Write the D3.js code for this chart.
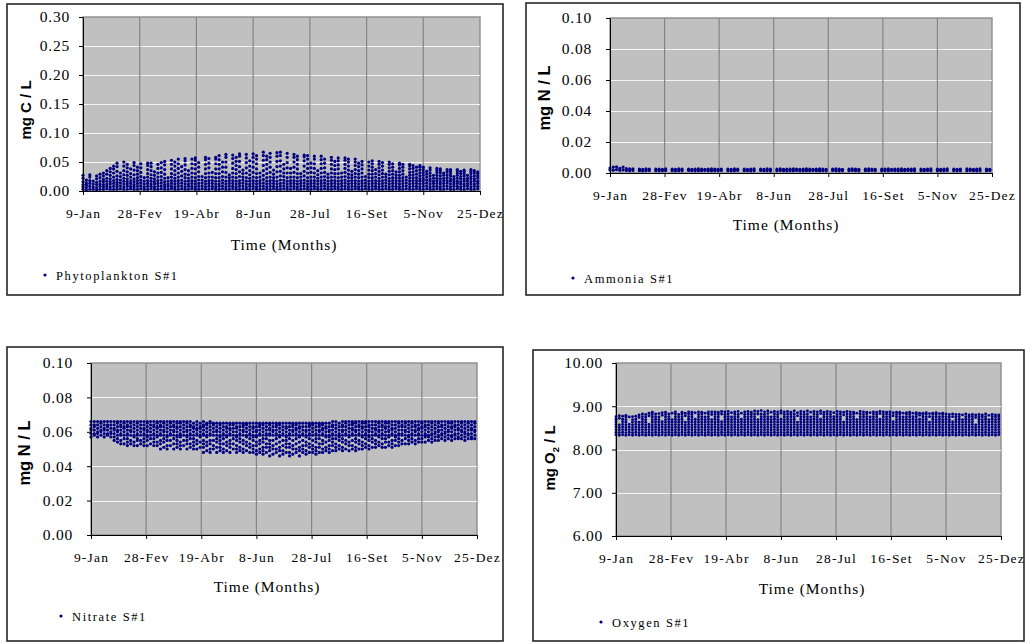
<!DOCTYPE html>
<html><head><meta charset="utf-8">
<script src="https://cdn.jsdelivr.net/npm/d3@7"></script>
<style>
html,body{margin:0;padding:0;background:#fff;}
svg{display:block;}
text{font-family:"Liberation Serif","Times New Roman",serif;fill:#000;}
.ytitle{font-family:"Liberation Sans",Arial,sans-serif;font-weight:bold;}
</style></head><body>
<svg id="chart" width="1025" height="643"></svg>
<script>
// Sampling: one column of model outputs every 3 days, starting 9 January (day of year).
const firstDay = 9;
const stepDays = 3;

// Date axis (day of year) and its labels
const tickDays = [9, 59, 109, 159, 209, 259, 309, 359];
const tickLabels = ["9-Jan", "28-Fev", "19-Abr", "8-Jun", "28-Jul", "16-Set", "5-Nov", "25-Dez"];

// Y tick values per panel
const phytoTicks = [0, 0.05, 0.10, 0.15, 0.20, 0.25, 0.30];
const nitrogenTicks = [0, 0.02, 0.04, 0.06, 0.08, 0.10];
const oxygenTicks = [6, 7, 8, 9, 10];

// Phytoplankton S#1, mg C/L x 1000, one array per sampling column
const phytoplanktonMilli = [
  [3,7,11,16,22,27],[2,6,10,14,19],[3,8,13,18,24,28],[3,7,12,17],[2,6,11,15,21,26],[3,8,12,17,23,29],[3,7,11,16,20,26,31],[4,8,12,17,22,29,35],[3,7,12,16,21,27,33,39],[3,8,13,18,24,31,38,43],
  [3,7,11,15,20,26,34,42,48],[4,9,14,19,25,31],[3,7,12,17,22,28,35,43,50],[3,8,12,16,21,27,33,40,46],[4,8,13,18,24,30,38],[3,7,11,16,21,28,36,44,49],[3,8,13,18,23,29,35,41],[4,9,14,19,25,32,40,47],[3,7,12,17,23],[3,8,13,18,24,30,37,44,48],
  [4,8,12,17,22,28,35,42,48],[3,7,12,16,21,27,33],[3,8,13,18,24,31,39,46],[4,9,14,19,25,32,40,49],[3,7,11,16,22,29,37,45,51],[3,8,12,17,23],[4,8,13,18,24,30,38,46,53],[3,7,12,17,22,28,35,43,50],[3,8,13,18,24,31,39,47,55],[4,9,14,19,26,34,42],
  [3,7,12,17,23,29,37,45,52,56],[3,8,12,17,22,28,35],[4,8,13,18,24,31,39,47,55],[3,7,12,17,23,30,38,46,53,57],[3,8,13,19,25,33,41,49],[4,9,14,19,25],[3,7,12,17,23,30,38,46,54,58],[3,8,13,18,24,31,40,48,56],[4,8,13,18,24,32],[3,7,12,17,23,30,38,47,55,58],
  [3,8,12,17,23,30,38,46,54,61],[4,9,14,19,25,33,41,50],[3,7,12,17,24,32,41,50,58,63],[3,8,13,18,23,28],[4,8,13,18,24,31,39,48,56,62],[3,7,12,17,23,30,37,44,51,58],[3,8,13,18,25,33,42,51,60,64],[4,9,14,19,24,30,36],[3,7,12,17,23,31,40,49,57,63],[3,8,12,17,22,28,35,43,52],
  [4,8,13,18,24,32,41,50,58,64],[3,7,12,17,23,30,38,47,55,61],[3,8,13,18,24,31],[4,9,14,20,27,35,44,53,61,67],[3,7,12,17,23,30,38,46,54,60],[3,8,13,18,24,32,41,50,58,65],[4,8,13,18,23,29,36],[3,7,12,17,24,33,42,51,60,66],[3,8,13,19,26,34,43,52,61,67],[4,9,14,19,25,31,38,46],
  [3,7,12,17,23,31,40,49,58,65],[3,8,13,18,24,31,39],[4,8,13,18,24,32,41,50,58,63],[3,7,12,17,23,30,38,46,54,60],[3,8,13,18,24,30],[4,9,14,19,26,34,43,52,59,62],[3,7,12,17,23,31,39,47,55,61],[3,8,13,18,24,32,40,48],[4,8,13,18,24,31,39,47,55,60],[3,7,12,17,22,28,35],
  [3,8,13,18,24,31,39,47,54,60],[4,9,14,19,25,32,40,48,55],[3,7,12,17,23,29],[3,8,13,18,24,31,38,46,53,58],[4,8,13,18,24,30,37,44,51],[3,7,12,17,23,30,38,45,52,57],[3,8,13,18,24,31],[4,9,14,19,25,32,39,46,53,57],[3,7,12,17,23,29,36,43,50,55],[3,8,13,18,23,28,34],
  [4,8,13,18,24,30,37,44,50,55],[3,7,12,17,23,29,35,42,48],[3,8,13,18,24,31,38,45,51],[4,9,14,19,25],[3,7,12,17,23,29,36,43,50],[3,8,13,18,23,29,35,41,47,52],[4,8,13,18,24,30,37],[3,7,12,17,22,28,34,40,46,51],[3,8,13,18,24,30,36,43,49],[4,9,14,19,24,29],
  [3,7,12,17,22,28,34,40,46,50],[3,8,13,18,23,29,35,41,47],[4,8,13,18,23,28,33],[3,7,12,17,22,27,33,39,45,48],[3,8,13,18,23,29,35,41,46],[4,9,14,19,24],[3,7,12,17,22,27,32,38,43,46],[3,8,13,18,23,28,33,39,44],[4,8,13,18,23,29,35,41],[3,7,12,17,21,26,31,36,41,44],
  [3,8,13,18,22,27,32,37,41],[4,9,14,19,24,29,34],[3,7,12,17,21,26,31,36,40],[3,8,13,17,22,27],[4,8,13,18,22,27,32,36,39],[3,7,12,16,21,26,31,35,38],[3,8,13,18,22,27,31],[4,9,14,18,23,28,33,37],[3,7,12,17,21,26,30,34,37],[3,8,12,16,20,25],
  [4,8,13,17,22,27,31,35,37],[3,7,12,16,21,25,30,34],[3,8,12,17,21,26,30,34,36],[4,9,13,18,22,27],[3,7,12,16,21,25,30,34,37],[3,8,12,17,21,26,31,35],[4,8,13,17,22,26,30,33]
];

// Ammonia S#1, mg N/L x 10000 (empty columns = no output that step)
const ammoniaTenThousandths = [
  [20,32],[18,38],[22,40],[17,30],[20,38],[16,28],[15,26],[16,27],[],[15,25],
  [14,24],[15,26],[16,25],[],[15,25],[14,25],[15,24],[16,26],[],[15,25],
  [14,24],[15,26],[15,25],[],[16,25],[15,24],[14,25],[15,26],[15,25],[16,24],
  [15,25],[14,26],[15,25],[15,24],[16,25],[],[15,25],[14,24],[15,26],[16,25],
  [],[15,25],[15,24],[14,25],[15,26],[],[16,25],[15,24],[15,26],[14,25],
  [],[15,25],[16,26],[15,24],[14,25],[15,25],[15,26],[16,25],[15,24],[14,25],
  [15,26],[15,25],[16,24],[15,25],[14,26],[15,25],[15,24],[],[16,25],[15,26],
  [14,25],[15,24],[],[15,25],[16,26],[15,25],[14,24],[],[15,25],[15,26],
  [16,25],[15,24],[],[14,25],[15,25],[15,26],[16,24],[15,25],[14,25],[15,26],
  [15,24],[16,25],[15,25],[14,26],[],[15,25],[15,24],[16,25],[15,26],[],
  [14,25],[15,24],[15,25],[16,26],[],[15,25],[14,24],[15,25],[],[15,26],
  [16,25],[15,24],[14,25],[15,26],[],[15,25],[16,24]
];

// Nitrate S#1, mg N/L x 1000
const nitrateMilli = [
  [57,59,61,62,64,66],[58,59,61,63,64,66],[57,59,60,62,64,66],[58,60,61,63,65,66],[57,59,61,62,64,66],[58,59,61,63,64,66],[57,59,60,62,64,66],[55,57,59,61,62,64,66],[54,56,58,60,61,63,65,66],[53,55,58,59,61,63,64,66],
  [53,56,58,60,62,63,65,66],[52,54,56,58,59,61,63,64,66],[53,55,58,60,61,63,65,66],[52,54,57,58,60,62,64,66],[52,55,56,58,59,61,63,65,66],[53,55,58,60,62,64,66],[52,54,56,58,59,61,62,64,66],[52,55,57,58,60,61,63,65,66],[53,56,58,60,62,64,66],[52,54,56,58,59,61,63,64,66],
  [52,54,57,58,60,62,63,65,66],[50,53,55,58,59,61,63,64,66],[51,54,56,58,60,61,63,65,66],[50,52,55,57,58,60,62,64,66],[52,55,58,59,61,63,65,66],[50,53,56,58,60,61,63,64,66],[51,53,55,57,58,60,62,63,65,66],[50,52,54,57,58,59,61,63,65,66],[52,55,58,60,62,64,66],[50,53,55,57,58,60,61,63,65,66],
  [51,53,56,58,59,61,63,64,66],[50,52,54,56,58,60,62,63,65],[50,53,55,58,59,61,62,64,66],[51,54,57,58,60,62,63,65],[48,51,53,55,58,59,61,63,64,66],[49,52,54,57,58,60,62,64,65],[48,50,53,55,58,59,61,63,65,66],[50,52,55,58,60,62,64,65],[48,51,54,56,58,60,61,63,65],[49,51,53,55,57,58,60,62,64,65],
  [48,50,53,56,58,59,61,63,65],[49,52,54,57,58,60,62,63,65],[48,51,53,55,58,59,61,62,64,65],[50,53,56,58,60,62,64,65],[48,50,52,55,57,58,60,62,63,65],[49,51,54,56,58,59,61,63,65],[48,50,53,55,58,60,61,63,64,65],[49,52,54,57,58,60,62,64,65],[48,51,53,56,58,59,61,63,65],[48,50,52,55,57,58,60,62,63,65],
  [47,49,52,54,57,58,60,61,63,65],[48,50,53,55,58,59,61,63,64,65],[47,49,51,54,56,58,60,62,64,65],[48,51,53,56,58,59,61,63,65],[46,49,51,53,55,58,59,61,62,64,65],[47,50,52,55,58,60,61,63,65],[48,50,53,56,58,59,61,63,64,65],[46,49,51,54,57,58,60,62,64,65],[47,49,52,55,58,59,61,63,65],[48,51,53,55,57,58,60,62,63,65],
  [46,48,51,53,56,58,59,61,63,65],[47,50,52,55,58,60,61,63,64,65],[48,50,53,56,58,59,61,62,64,65],[46,49,51,54,57,58,60,62,63,65],[48,50,52,55,58,59,61,63,65],[47,49,52,54,57,58,60,61,63,65],[48,51,53,56,58,59,61,63,64,65],[48,50,52,55,58,60,62,64,65],[47,49,51,54,56,58,59,61,63,65],[48,51,53,56,58,60,61,63,64,65],
  [48,50,53,55,58,59,61,62,64,65],[49,51,54,57,58,60,62,63,65],[48,50,52,55,57,58,60,61,63,65],[49,52,54,56,58,59,61,63,64,66],[49,51,53,56,58,60,62,64,66],[50,52,55,57,58,59,61,63,65],[49,51,54,56,58,60,61,63,64,66],[50,53,55,58,59,61,63,65,66],[49,52,54,57,58,60,62,64,66],[50,52,55,58,59,61,62,64,65,66],
  [49,51,54,56,58,60,61,63,65,66],[50,53,55,58,59,61,63,64,66],[50,52,54,57,58,60,62,63,65,66],[51,53,56,58,59,61,63,65,66],[50,52,55,57,58,60,61,63,64,66],[51,54,56,58,60,62,64,66],[51,53,55,58,59,61,62,64,66],[52,54,57,58,60,61,63,65,66],[51,53,56,58,59,61,63,64,66],[51,54,56,58,60,62,63,65,66],
  [52,54,57,58,60,61,63,65,66],[51,53,55,58,59,61,62,64,66],[52,55,57,58,60,62,64,66],[52,54,56,58,59,61,63,65,66],[53,55,58,59,61,63,64,66],[53,56,58,60,61,63,65,66],[53,55,57,58,60,62,64,66],[54,56,58,59,61,63,65,66],[53,55,58,60,61,63,64,66],[54,56,58,59,61,62,64,66],
  [54,56,58,60,62,63,65,66],[54,57,58,59,61,63,64,66],[55,57,58,60,62,64,66],[54,56,58,59,61,63,65,66],[55,57,59,60,62,64,66],[55,57,58,60,61,63,65,66],[56,58,59,61,63,64,66],[55,57,59,60,62,64,66],[56,58,60,61,63,65,66],[55,57,58,60,62,63,65,66],
  [56,58,59,61,63,64,66],[56,57,59,61,62,64,66],[56,58,60,61,63,65,66],[55,57,59,60,62,64,66],[56,58,59,61,63,65,66],[56,57,59,61,62,64,66],[56,58,60,61,63,65,66]
];

// Oxygen S#1, mg O2/L x 100
const oxygenCenti = [
  [834,840,846,852,858,864,870,876],[833,839,845,851,857,872,878],[834,840,846,852,858,864,870,877],[833,839,845,851,857,863,869,875,879],[834,840,846,852,858,875],[833,839,845,851,857,863,869,876],[834,840,846,852,858,864,870,877],[833,839,845,851,857,863,874,880],[834,840,846,852,858,864,870,876,882],[833,839,845,851,857,863,869,875,881],
  [834,840,846,852,858,878,884],[833,839,845,851,857,863,869,875,881,886],[834,840,846,852,858,864,870,876,882],[833,839,845,851,857,863,869,875,883],[834,840,846,852,858,864,879,885],[833,839,845,851,857,863,869,875,881,886],[834,840,846,852,858,864,870,876,882],[833,839,845,851,857,863,869,884],[834,840,846,852,858,864,870,876,882,887],[833,839,845,851,857,863,869,875,881],
  [834,840,846,852,858,864,870,876,882,886],[833,839,845,851,857,863,878,884],[834,840,846,852,858,864,870,876,882,887],[833,839,845,851,857,863,869,875,881,886],[834,840,846,852,858,864,870,885],[833,839,845,851,857,863,869,875,881,887],[834,840,846,852,858,864,870,876,882,886],[833,839,845,851,857,863,869,875,884],[834,840,846,852,858,864,870,876,882,887],[833,839,845,851,857,863,869,881,887],
  [834,840,846,852,858,864,870,876,882,887],[833,839,845,851,857,863,869,875,881,886],[834,840,846,852,858,864,882,888],[833,839,845,851,857,863,869,875,881,887],[834,840,846,852,858,864,870,876,882,888],[833,839,845,851,857,863,869,875,885],[834,840,846,852,858,864,870,876,882,887],[833,839,845,851,857,863,869,875,881,888],[834,840,846,852,858,864,870,884],[833,839,845,851,857,863,869,875,881,887],
  [834,840,846,852,858,864,870,876,882,888],[833,839,845,851,857,863,869,875,881,886],[834,840,846,852,858,864,870,876,882,889],[833,839,845,851,857,863,869,882,888],[834,840,846,852,858,864,870,876,882,890],[833,839,845,851,857,863,869,875,881,887],[834,840,846,852,858,864,870,876,883,889],[833,839,845,851,857,863,869,875,886],[834,840,846,852,858,864,870,876,882,888],[833,839,845,851,857,863,869,875,881,887],
  [834,840,846,852,858,864,870,884,889],[833,839,845,851,857,863,869,875,881,887],[834,840,846,852,858,864,870,876,882,888],[833,839,845,851,857,863,869,875,881,886],[834,840,846,852,858,864,870,876,882,889],[833,839,845,851,857,863,878,885],[834,840,846,852,858,864,870,876,882,888],[833,839,845,851,857,863,869,875,881,887],[834,840,846,852,858,864,870,876,882,889],[833,839,845,851,857,863,869,875,886],
  [834,840,846,852,858,864,870,876,882,888],[833,839,845,851,857,863,869,875,881,887],[834,840,846,852,858,864,870,883,889],[833,839,845,851,857,863,869,875,881,886],[834,840,846,852,858,864,870,876,882,888],[833,839,845,851,857,863,869,875,881,887],[834,840,846,852,858,864,870,876,885],[833,839,845,851,857,863,869,875,881,888],[834,840,846,852,858,864,870,876,882,887],[833,839,845,851,857,863,880,886],
  [834,840,846,852,858,864,870,876,882,888],[833,839,845,851,857,863,869,875,881,887],[834,840,846,852,858,864,870,876,882,886],[833,839,845,851,857,863,869,884],[834,840,846,852,858,864,870,876,882,888],[833,839,845,851,857,863,869,875,881,887],[834,840,846,852,858,864,870,876,882,886],[833,839,845,851,857,863,869,875,885],[834,840,846,852,858,864,870,876,882,887],[833,839,845,851,857,863,869,875,881,886],
  [834,840,846,852,858,864,870,883,888],[833,839,845,851,857,863,869,875,881,887],[834,840,846,852,858,864,870,876,882,886],[833,839,845,851,857,863,869,875,881,887],[834,840,846,852,858,864,878,885],[833,839,845,851,857,863,869,875,881,886],[834,840,846,852,858,864,870,876,882,886],[833,839,845,851,857,863,869,875,884],[834,840,846,852,858,864,870,876,882,885],[833,839,845,851,857,863,869,875,881,886],
  [834,840,846,852,858,864,870,876,884],[833,839,845,851,857,863,869,875,881,885],[834,840,846,852,858,864,870,879,884],[833,839,845,851,857,863,869,875,881,884],[834,840,846,852,858,864,870,876,882,885],[833,839,845,851,857,863,876,883],[834,840,846,852,858,864,870,876,882,884],[833,839,845,851,857,863,869,875,881,885],[834,840,846,852,858,864,870,876,883],[833,839,845,851,857,863,869,875,881,884],
  [834,840,846,852,858,864,870,876,882],[833,839,845,851,857,863,869,875,881],[834,840,846,852,858,864,876,882],[833,839,845,851,857,863,869,875,881],[834,840,846,852,858,864,870,876,881],[833,839,845,851,857,863,869,880],[834,840,846,852,858,864,870,876,882],[833,839,845,851,857,863,869,875,880],[834,840,846,852,858,864,870,876,881],[833,839,845,851,857,874,880],
  [834,840,846,852,858,864,870,876,881],[833,839,845,851,857,863,869,875,880],[834,840,846,852,858,864,870,876,882],[833,839,845,851,857,863,869,879],[834,840,846,852,858,864,870,876,881],[833,839,845,851,857,863,869,875,880],[834,840,846,852,858,864,870,876,880]
];

const NAVY = "#000080";
const svg = d3.select("#chart");
svg.append("rect").attr("width", 1025).attr("height", 643).attr("fill", "#fff");

const panels = [
  { frame: {x: 7, y: 4, w: 496, h: 291},
    plot: {x0: 83, x1: 480, y0: 17, y1: 191},
    domain: [0, 0.30], ticks: phytoTicks, columns: phytoplanktonMilli, divisor: 1000, r: 1.6,
    yLabelGap: 13, yTitle: {x: 31, y: 110, size: 15, parts: [["mg C / L", false]]},
    xTitle: {x: 284, y: 250}, legend: {x: 45, y: 275, text: "Phytoplankton S#1"} },
  { frame: {x: 526, y: 3, w: 494, h: 292},
    plot: {x0: 610, x1: 992, y0: 18, y1: 173},
    domain: [0, 0.10], ticks: nitrogenTicks, columns: ammoniaTenThousandths, divisor: 10000, r: 1.6,
    yLabelGap: 18, yTitle: {x: 550, y: 98, size: 16.5, parts: [["mg N / L", false]]},
    xTitle: {x: 786, y: 230}, legend: {x: 573, y: 278, text: "Ammonia S#1"} },
  { frame: {x: 7, y: 347, w: 496, h: 294},
    plot: {x0: 91, x1: 477, y0: 363, y1: 535},
    domain: [0, 0.10], ticks: nitrogenTicks, columns: nitrateMilli, divisor: 1000, r: 1.6,
    yLabelGap: 18, yTitle: {x: 30, y: 453, size: 16.5, parts: [["mg N / L", false]]},
    xTitle: {x: 267, y: 592}, legend: {x: 61, y: 616, text: "Nitrate S#1"} },
  { frame: {x: 533, y: 350, w: 491, h: 291},
    plot: {x0: 616, x1: 1001, y0: 363, y1: 536},
    domain: [6, 10], ticks: oxygenTicks, columns: oxygenCenti, divisor: 100, r: 1.45,
    yLabelGap: 13, yTitle: {x: 555, y: 458, size: 15, parts: [["mg O", false], ["2", true], [" / L", false]]},
    xTitle: {x: 812, y: 594}, legend: {x: 601, y: 622, text: "Oxygen S#1"} }
];

panels.forEach(p => {
  const g = svg.append("g");
  const {x0, x1, y0, y1} = p.plot;

  // chart frame
  g.append("rect")
    .attr("x", p.frame.x).attr("y", p.frame.y)
    .attr("width", p.frame.w).attr("height", p.frame.h)
    .attr("fill", "#fff").attr("stroke", "#262626").attr("stroke-width", 1.6);

  const x = d3.scaleLinear().domain([tickDays[0], tickDays[tickDays.length - 1]]).range([x0, x1]);
  const y = d3.scaleLinear().domain(p.domain).range([y1, y0]);

  // plot area
  g.append("rect")
    .attr("x", x0).attr("y", y0).attr("width", x1 - x0).attr("height", y1 - y0)
    .attr("fill", "#c0c0c0").attr("stroke", "#8c8c8c").attr("stroke-width", 1.4);

  // horizontal gridlines
  g.append("g").selectAll("line")
    .data(p.ticks.slice(1, -1))
    .join("line")
    .attr("x1", x0).attr("x2", x1)
    .attr("y1", d => Math.round(y(d)) + 0.5).attr("y2", d => Math.round(y(d)) + 0.5)
    .attr("stroke", "#f4f4f4").attr("stroke-width", 1);

  // vertical gridlines
  g.append("g").selectAll("line")
    .data(tickDays.slice(1, -1))
    .join("line")
    .attr("x1", d => x(d)).attr("x2", d => x(d))
    .attr("y1", y0).attr("y2", y1)
    .attr("stroke", "#858585").attr("stroke-width", 1.2);

  // points
  const pts = p.columns.flatMap((col, i) =>
    col.map(v => ({day: firstDay + i * stepDays, value: v / p.divisor})));
  g.append("g").selectAll("circle")
    .data(pts)
    .join("circle")
    .attr("cx", d => x(d.day))
    .attr("cy", d => y(d.value))
    .attr("r", p.r)
    .attr("fill", NAVY);

  // x axis
  const xAxis = g.append("g")
    .attr("transform", `translate(0,${y1})`)
    .call(d3.axisBottom(x).tickValues(tickDays).tickFormat((d, i) => tickLabels[i]).tickSize(4).tickSizeOuter(0));
  xAxis.select(".domain").attr("stroke", "#000");
  xAxis.selectAll(".tick line").attr("stroke", "#000");
  xAxis.selectAll(".tick text")
    .attr("y", 27).attr("dy", 0)
    .attr("font-family", "Liberation Serif, Times New Roman, serif")
    .attr("font-size", 13.5)
    .attr("letter-spacing", 1.2)
    .attr("fill", "#000");

  // y axis
  const yAxis = g.append("g")
    .attr("transform", `translate(${x0},0)`)
    .call(d3.axisLeft(y).tickValues(p.ticks).tickFormat(d3.format(".2f")).tickSize(4).tickSizeOuter(0));
  yAxis.select(".domain").attr("stroke", "#000");
  yAxis.selectAll(".tick line").attr("stroke", "#000");
  yAxis.selectAll(".tick text")
    .attr("x", -p.yLabelGap)
    .attr("font-family", "Liberation Serif, Times New Roman, serif")
    .attr("font-size", 15.5)
    .attr("letter-spacing", 0.8)
    .attr("fill", "#000");

  // y title (rotated)
  const yt = g.append("text")
    .attr("class", "ytitle")
    .attr("transform", `translate(${p.yTitle.x},${p.yTitle.y}) rotate(-90)`)
    .attr("text-anchor", "middle")
    .attr("font-size", p.yTitle.size);
  p.yTitle.parts.forEach(([t, sub]) => {
    const ts = yt.append("tspan").text(t);
    if (sub) ts.attr("font-size", p.yTitle.size * 0.62).attr("dy", 4);
    else if (t.startsWith(" ")) ts.attr("dy", -4);
  });

  // x title
  g.append("text")
    .attr("x", p.xTitle.x).attr("y", p.xTitle.y)
    .attr("text-anchor", "middle")
    .attr("font-size", 15.5)
    .attr("letter-spacing", 1)
    .text("Time (Months)");

  // legend
  g.append("circle").attr("cx", p.legend.x).attr("cy", p.legend.y).attr("r", 1.6).attr("fill", NAVY);
  g.append("text")
    .attr("x", p.legend.x + 11).attr("y", p.legend.y + 4.5)
    .attr("font-size", 12.5)
    .attr("letter-spacing", 1.6)
    .text(p.legend.text);
});
</script>
</body></html>
